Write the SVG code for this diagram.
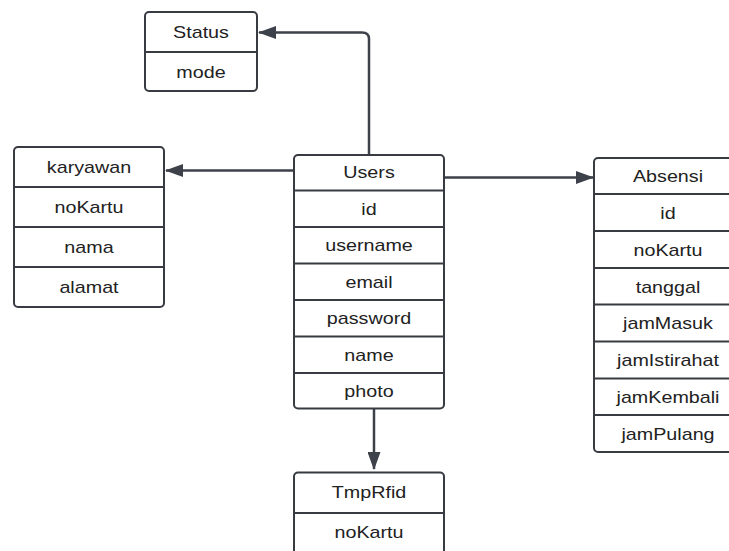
<svg xmlns="http://www.w3.org/2000/svg" width="729" height="551" viewBox="0 0 729 551">
  <style>
    .box { fill: #ffffff; stroke: #383b42; stroke-width: 2; }
    .div { stroke: #383b42; stroke-width: 2; fill: none; }
    .lbl { font-family: "Liberation Sans", Arial, sans-serif; font-size: 17px; fill: #222222; text-anchor: middle; }
    .edge { stroke: #3d414a; stroke-width: 2.5; fill: none; }
  </style>
  <defs>
    <marker id="arrow" markerUnits="userSpaceOnUse" markerWidth="18" markerHeight="13" refX="17" refY="6.5" orient="auto">
      <path d="M0,0 L18,6.5 L0,13 z" fill="#3d414a"/>
    </marker>
  </defs>
  <rect width="729" height="551" fill="#ffffff"/>

  <!-- connectors -->
  <g id="connectors">
    <path class="edge" d="M369,155 V39 Q369,32.5 362,32.5 H259" marker-end="url(#arrow)"/>
    <path class="edge" d="M294,170.5 H166" marker-end="url(#arrow)"/>
    <path class="edge" d="M444,177.5 H593" marker-end="url(#arrow)"/>
    <path class="edge" d="M374,408.5 V469" marker-end="url(#arrow)"/>
  </g>

  <!-- Status -->
  <g id="status">
    <rect class="box" x="145" y="12" width="112" height="79" rx="4"/>
    <line class="div" x1="145" y1="52" x2="257" y2="52"/>
    <text class="lbl" transform="translate(201,38) scale(1.16,1)">Status</text>
    <text class="lbl" transform="translate(201,77.5) scale(1.16,1)">mode</text>
  </g>

  <!-- karyawan -->
  <g id="karyawan">
    <rect class="box" x="14" y="147" width="150" height="160" rx="4"/>
    <line class="div" x1="14" y1="187" x2="164" y2="187"/>
    <line class="div" x1="14" y1="227" x2="164" y2="227"/>
    <line class="div" x1="14" y1="267" x2="164" y2="267"/>
    <text class="lbl" transform="translate(89,172.5) scale(1.16,1)">karyawan</text>
    <text class="lbl" transform="translate(89,212.5) scale(1.16,1)">noKartu</text>
    <text class="lbl" transform="translate(89,252.5) scale(1.16,1)">nama</text>
    <text class="lbl" transform="translate(89,292.5) scale(1.16,1)">alamat</text>
  </g>

  <!-- Users -->
  <g id="users">
    <rect class="box" x="294" y="155" width="150" height="253.5" rx="4"/>
    <line class="div" x1="294" y1="190.5" x2="444" y2="190.5"/>
    <line class="div" x1="294" y1="227" x2="444" y2="227"/>
    <line class="div" x1="294" y1="263.5" x2="444" y2="263.5"/>
    <line class="div" x1="294" y1="300" x2="444" y2="300"/>
    <line class="div" x1="294" y1="336.5" x2="444" y2="336.5"/>
    <line class="div" x1="294" y1="373" x2="444" y2="373"/>
    <text class="lbl" transform="translate(369,177.5) scale(1.16,1)">Users</text>
    <text class="lbl" transform="translate(369,214.5) scale(1.16,1)">id</text>
    <text class="lbl" transform="translate(369,251) scale(1.16,1)">username</text>
    <text class="lbl" transform="translate(369,287.5) scale(1.16,1)">email</text>
    <text class="lbl" transform="translate(369,324) scale(1.16,1)">password</text>
    <text class="lbl" transform="translate(369,360.5) scale(1.16,1)">name</text>
    <text class="lbl" transform="translate(369,396.5) scale(1.16,1)">photo</text>
  </g>

  <!-- Absensi -->
  <g id="absensi">
    <rect class="box" x="594" y="158" width="150" height="294" rx="4"/>
    <line class="div" x1="594" y1="194" x2="744" y2="194"/>
    <line class="div" x1="594" y1="231" x2="744" y2="231"/>
    <line class="div" x1="594" y1="268" x2="744" y2="268"/>
    <line class="div" x1="594" y1="304.5" x2="744" y2="304.5"/>
    <line class="div" x1="594" y1="341.5" x2="744" y2="341.5"/>
    <line class="div" x1="594" y1="378.5" x2="744" y2="378.5"/>
    <line class="div" x1="594" y1="415" x2="744" y2="415"/>
    <text class="lbl" transform="translate(668,182) scale(1.16,1)">Absensi</text>
    <text class="lbl" transform="translate(668,218.5) scale(1.16,1)">id</text>
    <text class="lbl" transform="translate(668,255.5) scale(1.16,1)">noKartu</text>
    <text class="lbl" transform="translate(668,292.5) scale(1.16,1)">tanggal</text>
    <text class="lbl" transform="translate(668,329) scale(1.16,1)">jamMasuk</text>
    <text class="lbl" transform="translate(668,366) scale(1.16,1)">jamIstirahat</text>
    <text class="lbl" transform="translate(668,402.5) scale(1.16,1)">jamKembali</text>
    <text class="lbl" transform="translate(668,439.5) scale(1.16,1)">jamPulang</text>
  </g>

  <!-- TmpRfid -->
  <g id="tmprfid">
    <rect class="box" x="294" y="472.5" width="150" height="90" rx="4"/>
    <line class="div" x1="294" y1="513" x2="444" y2="513"/>
    <text class="lbl" transform="translate(369,498) scale(1.16,1)">TmpRfid</text>
    <text class="lbl" transform="translate(369,537.5) scale(1.16,1)">noKartu</text>
  </g>
</svg>
